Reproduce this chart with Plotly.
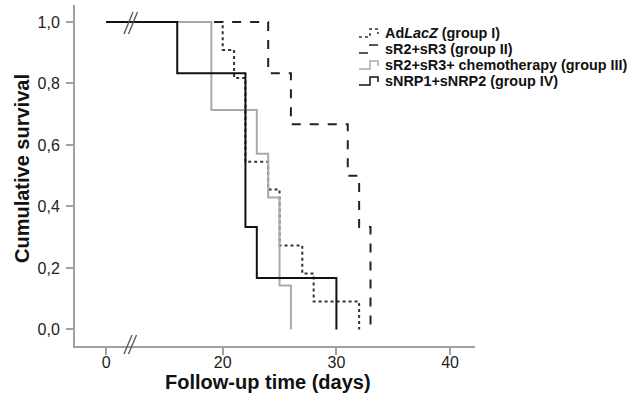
import plotly.graph_objects as go

# ---- data (days, cumulative survival) ----
series_names = [
    "Ad<i>LacZ</i> (group I)",
    "sR2+sR3 (group II)",
    "sR2+sR3+ chemotherapy (group III)",
    "sNRP1+sNRP2 (group IV)",
]
times_I = [0, 20, 21, 22, 24, 25, 27, 28, 32]
surv_I = [1.0, 0.909, 0.818, 0.545, 0.455, 0.273, 0.182, 0.091, 0.0]
times_II = [0, 24, 26, 31, 32, 33]
surv_II = [1.0, 0.833, 0.667, 0.5, 0.333, 0.0]
times_III = [0, 19, 23, 24, 25, 26]
surv_III = [1.0, 0.714, 0.571, 0.429, 0.143, 0.0]
times_IV = [0, 16, 22, 23, 30]
surv_IV = [1.0, 0.833, 0.333, 0.167, 0.0]

x_tick_vals = [0, 20, 30, 40]
x_tick_text = ["0", "20", "30", "40"]
y_tick_vals = [0, 0.2, 0.4, 0.6, 0.8, 1.0]
y_tick_text = ["0,0", "0,2", "0,4", "0,6", "0,8", "1,0"]

# axis break: day 0 is drawn where day 9.75 would sit
BREAK_AT = 9.75


def brk(t):
    return [BREAK_AT if v == 0 else v for v in t]


styles = [
    dict(color="#333333", width=2, dash="dot"),
    dict(color="#222222", width=2, dash="dash"),
    dict(color="#aaaaaa", width=2, dash="solid"),
    dict(color="#111111", width=2, dash="solid"),
]
data = [(times_I, surv_I), (times_II, surv_II), (times_III, surv_III), (times_IV, surv_IV)]

fig = go.Figure()
for (t, s), name, st in zip(data, series_names, styles):
    fig.add_trace(go.Scatter(x=brk(t), y=s, mode="lines", line_shape="hv",
                             line=st, name=name, showlegend=False))

W, H = 639, 396
L, R, T, B = 75, 164, 5, 50
PW, PH = W - L - R, H - T - B


def px(xp):
    return (xp - L) / PW


def py(yp):
    return (H - B - yp) / PH


shapes = []
annotations = []
# custom legend
leg_y = [33, 49, 65, 81]
for yy, name, st in zip(leg_y, series_names, styles):
    path = "M {} {} L {} {} L {} {} L {} {} L {} {}".format(
        px(359), py(yy + 4), px(370), py(yy + 4), px(370), py(yy - 4),
        px(378), py(yy - 4), px(378), py(yy + 1))
    shapes.append(dict(type="path", path=path, xref="paper", yref="paper",
                       line=dict(color=st["color"], width=1.5, dash=st["dash"])))
    annotations.append(dict(text="<b>" + name + "</b>", x=px(383), y=py(yy), xref="paper", yref="paper",
                            xanchor="left", yanchor="middle", showarrow=False,
                            font=dict(size=14.4, color="#111111", family="Liberation Sans, Arial")))

# break marks "//"
for dx in (0, 4.5):
    shapes.append(dict(type="line", xref="paper", yref="paper",
                       x0=px(124 + dx), y0=py(34), x1=px(133 + dx), y1=py(12),
                       line=dict(color="#555555", width=1.3)))
    shapes.append(dict(type="line", xref="paper", yref="paper",
                       x0=px(124 + dx), y0=py(354), x1=px(132 + dx), y1=py(335),
                       line=dict(color="#555555", width=1.3)))

# axis titles
annotations.append(dict(text="<b>Follow-up time (days)</b>", x=px(268), y=py(382), xref="paper", yref="paper",
                        xanchor="center", yanchor="middle", showarrow=False,
                        font=dict(size=20, color="#111111", family="Liberation Sans, Arial")))
annotations.append(dict(text="<b>Cumulative survival</b>", x=px(22), y=py(169), xref="paper", yref="paper",
                        xanchor="center", yanchor="middle", showarrow=False, textangle=-90,
                        font=dict(size=20, color="#111111", family="Liberation Sans, Arial")))

fig.update_layout(
    width=W, height=H,
    margin=dict(l=L, r=R, t=T, b=B, autoexpand=False),
    paper_bgcolor="white", plot_bgcolor="white",
    shapes=shapes, annotations=annotations, showlegend=False,
    font=dict(family="Liberation Sans, Arial", size=16, color="#222222"),
)
fig.update_xaxes(range=[7.01, 42.19], tickvals=[BREAK_AT if v == 0 else v for v in x_tick_vals],
                 ticktext=x_tick_text, showgrid=False, zeroline=False, automargin=False,
                 showline=True, linecolor="#a0a0a0", linewidth=2,
                 ticks="outside", ticklen=7, tickwidth=2, tickcolor="#a0a0a0",
                 ticklabelstandoff=-6,
                 tickfont=dict(size=16, color="#222222"))
fig.update_yaxes(range=[-0.0537, 1.055], tickvals=y_tick_vals, ticktext=y_tick_text,
                 showgrid=False, zeroline=False, automargin=False,
                 showline=True, linecolor="#a0a0a0", linewidth=2,
                 ticks="outside", ticklen=7, tickwidth=1.5, tickcolor="#a0a0a0",
                 ticklabelstandoff=3,
                 tickfont=dict(size=16, color="#222222"))

fig.write_html("out.html", config={"displayModeBar": False},
               post_script="document.body.style.margin='0';document.body.style.overflow='hidden';")
